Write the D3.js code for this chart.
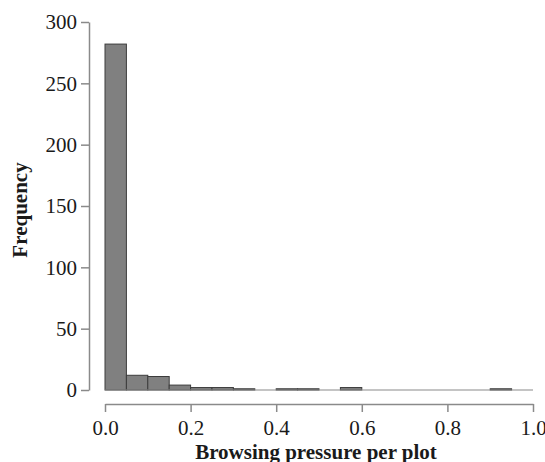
<!DOCTYPE html>
<html>
<head>
	<meta charset="utf-8">
	<title>Browsing pressure histogram</title>
	<script src="https://d3js.org/d3.v7.min.js"></script>
	<style>
		body { margin: 0; background: #fff; }
		text { font-family: "Liberation Serif", "DejaVu Serif", serif; fill: #1a1a1a; }
	</style>
</head>
<body>
	<div id="chart"></div>
	<script>
		// Bin edges (left) and counts, bin width 0.05
		var binStarts = [0.00, 0.05, 0.10, 0.15, 0.20, 0.25, 0.30, 0.35, 0.40, 0.45, 0.50,
		                 0.55, 0.60, 0.65, 0.70, 0.75, 0.80, 0.85, 0.90, 0.95];
		var counts    = [282, 12, 11, 4, 2, 2, 1, 0, 1, 1, 0,
		                 2, 0, 0, 0, 0, 0, 0, 1, 0];
		var binWidth = 0.05;
		var xTicks = [0.0, 0.2, 0.4, 0.6, 0.8, 1.0];
		var yTicks = [0, 50, 100, 150, 200, 250, 300];

		var W = 545, H = 462;

		var x = d3.scaleLinear().domain([0, 1]).range([105, 533]);
		var y = d3.scaleLinear().domain([0, 300]).range([390, 22]);

		var svg = d3.select("#chart")
			.append("svg")
			.attr("width", W)
			.attr("height", H);

		// Bars
		svg.selectAll(".bar")
			.data(binStarts.map((s, i) => ({ x0: s, n: counts[i] })).filter(d => d.n > 0))
			.enter()
			.append("rect")
			.attr("class", "bar")
			.attr("x", d => x(d.x0))
			.attr("y", d => y(d.n))
			.attr("width", d => x(d.x0 + binWidth) - x(d.x0))
			.attr("height", d => y(0) - y(d.n))
			.attr("fill", "#808080")
			.attr("stroke", "#3c3c3c")
			.attr("stroke-width", 1);

		// Baseline under the bars
		svg.append("line")
			.attr("x1", x(0)).attr("x2", x(1))
			.attr("y1", y(0)).attr("y2", y(0))
			.attr("stroke", "#8a8a8a")
			.attr("stroke-width", 1.2);

		// Y axis
		var yAxis = svg.append("g")
			.attr("transform", "translate(89,0)")
			.call(d3.axisLeft(y).tickValues(yTicks).tickSize(8).tickPadding(4).tickSizeOuter(0));
		yAxis.select(".domain").attr("stroke", "#8a8a8a").attr("stroke-width", 1.5);
		yAxis.selectAll(".tick line").attr("stroke", "#8a8a8a").attr("stroke-width", 1.5);
		yAxis.selectAll(".tick text").style("font-size", "21px").attr("fill", "#1a1a1a");

		// X axis
		var xAxis = svg.append("g")
			.attr("transform", "translate(0,404)")
			.call(d3.axisBottom(x).tickValues(xTicks).tickFormat(d3.format(".1f"))
				.tickSize(8).tickPadding(8).tickSizeOuter(0));
		xAxis.select(".domain").attr("stroke", "#8a8a8a").attr("stroke-width", 1.5);
		xAxis.selectAll(".tick line").attr("stroke", "#8a8a8a").attr("stroke-width", 1.5);
		xAxis.selectAll(".tick text").style("font-size", "21px").attr("fill", "#1a1a1a");

		// Axis titles
		svg.append("text")
			.attr("x", 316)
			.attr("y", 459)
			.attr("text-anchor", "middle")
			.style("font-size", "21px")
			.style("font-weight", "bold")
			.text("Browsing pressure per plot");

		svg.append("text")
			.attr("transform", "translate(27,210) rotate(-90)")
			.attr("text-anchor", "middle")
			.style("font-size", "21px")
			.style("font-weight", "bold")
			.text("Frequency");
	</script>
</body>
</html>
